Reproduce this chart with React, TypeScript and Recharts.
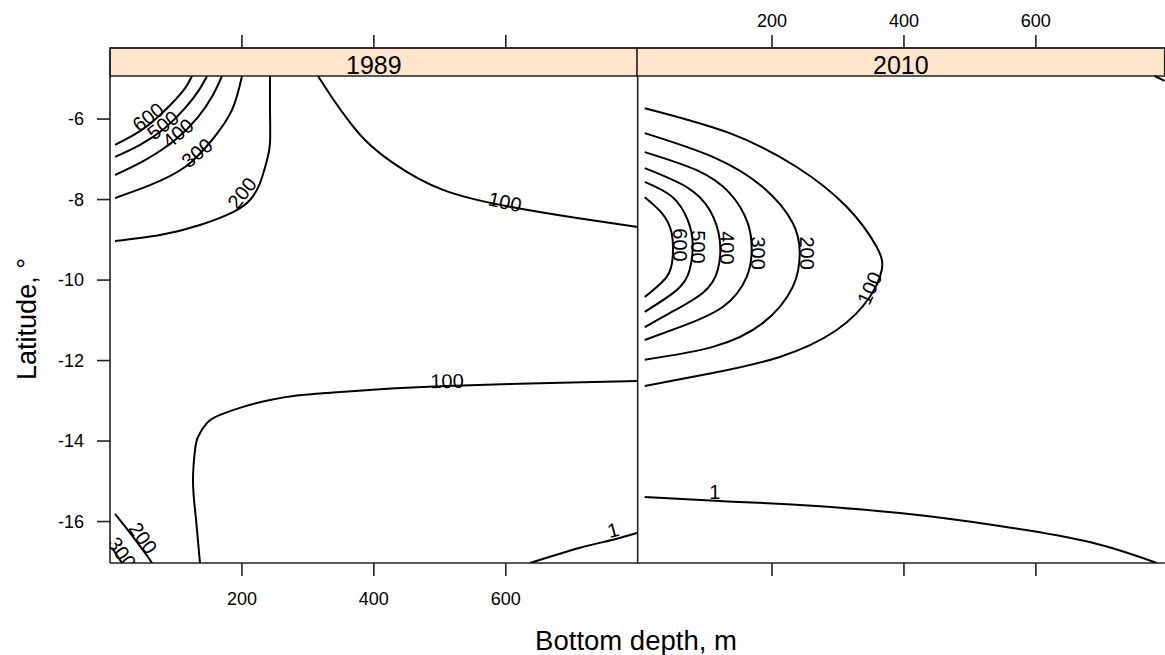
import React from 'react';
import {
  ScatterChart,
  Scatter,
  XAxis,
  YAxis,
  ReferenceArea,
  ReferenceLine,
} from 'recharts';

const FONT = '"Liberation Sans", Arial, Helvetica, sans-serif';

const panelNames = ['1989', '2010'];
const depthTicks = [200, 400, 600];
const latTicks = [-16, -14, -12, -10, -8, -6];

// contour lines, [bottom depth m, latitude]
const c89_600 = [[7.6, -6.64], [45.5, -6.3], [75.8, -5.9], [100.1, -5.5], [115.2, -5.2], [124.3, -4.93]];
const c89_500 = [[7.6, -6.94], [45.5, -6.64], [83.4, -6.22], [113.7, -5.73], [134.9, -5.28], [147.1, -4.93]];
const c89_400 = [[7.6, -7.39], [53.1, -7.02], [98.5, -6.52], [133.4, -5.95], [156.1, -5.4], [169.8, -4.93]];
const c89_300 = [[7.6, -7.96], [60.6, -7.64], [113.7, -7.19], [154.6, -6.52], [185, -5.77], [200.1, -4.93]];
const c89_200 = [
  [7.6, -9.03], [75.8, -8.88], [136.4, -8.63], [186.5, -8.31], [212.2, -8.01], [227.4, -7.59],
  [238, -7.02], [242.6, -6.59], [242.6, -5.8], [242.6, -4.93],
];
const c89_100a = [
  [315.3, -4.93], [338.1, -5.5], [360.8, -6.02], [386.6, -6.52], [429, -7.09], [504.8, -7.76],
  [606.4, -8.18], [708, -8.46], [800, -8.68],
];
const c89_100b = [
  [800, -12.51], [667, -12.56], [510.9, -12.63], [409.3, -12.71], [333.5, -12.8], [283.5, -12.87],
  [242.6, -12.98], [201.6, -13.15], [166.8, -13.35], [147.1, -13.55], [133.4, -13.9], [128.9, -14.22],
  [125.8, -14.97], [128.9, -15.71], [131.9, -16.21], [136.4, -17.03],
];
const c89_200b = [[7.6, -15.81], [30.3, -16.28], [53.1, -16.78], [63.7, -17.03]];
const c89_300b = [[3, -16.65], [18.2, -17.03]];
const c89_1 = [[636.7, -17.03], [712.5, -16.65], [761, -16.46], [800, -16.28]];

const c10_100 = [
  [7, -5.73], [135.8, -6.35], [237.4, -7.19], [313.2, -8.18], [358.7, -9.18], [366.3, -9.75],
  [348.1, -10.42], [298, -11.24], [211.6, -11.91], [110.1, -12.31], [7, -12.63],
];
const c10_200 = [
  [7, -6.35], [110.1, -6.94], [185.9, -7.69], [231.4, -8.58], [242, -9.33], [231.4, -10.17],
  [185.9, -11.07], [110.1, -11.66], [7, -11.98],
];
const c10_300 = [
  [7, -6.82], [85.8, -7.27], [135.8, -7.84], [163.1, -8.58], [169.2, -9.25], [161.6, -9.92],
  [125.2, -10.67], [60, -11.17], [7, -11.49],
];
const c10_400 = [
  [7, -7.22], [70.6, -7.69], [105.5, -8.26], [120.7, -9.0], [117.7, -9.75], [94.9, -10.32],
  [44.9, -10.82], [7, -11.17],
];
const c10_500 = [[7, -7.56], [49.4, -7.94], [72.2, -8.51], [79.7, -9.08], [75.1, -9.75], [55.5, -10.25], [7, -10.79]];
const c10_600 = [[7, -7.94], [32.7, -8.33], [47.9, -8.83], [49.4, -9.43], [40.3, -9.92], [7, -10.42]];
const c10_1 = [
  [7, -15.39], [120.7, -15.49], [242, -15.59], [393.6, -15.79], [545.2, -16.11], [681.6, -16.51], [783.2, -17.03],
];
const c10_corner = [[780.1, -4.93], [795.3, -5.05]];

// contour labels
const labelLevels89 = ['600', '500', '400', '300', '200', '100', '100', '1', '200', '300'];
const labelDepth89 = [57.6, 80.3, 103.1, 131.9, 200.1, 598.8, 510.9, 762.6, 50, 18.2];
const labelLat89 = [-5.95, -6.15, -6.35, -6.84, -7.84, -8.06, -12.51, -16.21, -16.41, -16.78];
const labelLevels10 = ['600', '500', '400', '300', '200', '100', '1'];
const labelDepth10 = [60, 87.3, 131.3, 178.3, 252.6, 348.1, 113.1];
const labelLat10 = [-9.13, -9.18, -9.2, -9.33, -9.33, -10.2, -15.26];

const ANGLES_89 = [-38, -38, -40, -40, -52, 12, -1, -15, 55, 55];
const ANGLES_10 = [90, 90, 90, 90, 90, -66, 0];

const LAT_DOMAIN: [number, number] = [-17.03, -4.234];
const STRIP_BOTTOM = -4.93;

const pts = (a: number[][]) => a.map(([depth, lat]) => ({ depth, lat }));

const lines89 = [c89_600, c89_500, c89_400, c89_300, c89_200, c89_100a, c89_100b, c89_200b, c89_300b, c89_1].map(pts);
const lines10 = [c10_100, c10_200, c10_300, c10_400, c10_500, c10_600, c10_1, c10_corner].map(pts);

const labels89 = labelLevels89.map((level, i) => ({ level, depth: labelDepth89[i], lat: labelLat89[i], angle: ANGLES_89[i] }));
const labels10 = labelLevels10.map((level, i) => ({ level, depth: labelDepth10[i], lat: labelLat10[i], angle: ANGLES_10[i] }));

const INK = '#222';
const axisStyle = { stroke: INK, strokeWidth: 1.6 };
const tickStyle = { fontSize: 18, fill: '#000', fontFamily: FONT };

const NoDot = () => <g />;

const ContourLabel = (props: any) => {
  const { cx, cy, payload } = props;
  return (
    <text
      x={cx}
      y={cy}
      transform={`rotate(${payload.angle} ${cx} ${cy})`}
      textAnchor="middle"
      dominantBaseline="central"
      fontSize={20}
      fontFamily={FONT}
      fill="#000"
    >
      {payload.level}
    </text>
  );
};

const Panel = ({ idx, lines, labels, domain }: any) => {
  const first = idx === 0;
  return (
    <ScatterChart
      width={first ? 650 : 600}
      height={655}
      margin={{ top: 8, right: first ? 12.3 : 22.3, bottom: 52, left: 50 }}
    >
      <XAxis
        dataKey="depth"
        type="number"
        domain={domain}
        allowDataOverflow
        ticks={depthTicks}
        interval={0}
        height={40}
        tickSize={13}
        tickMargin={16}
        axisLine={axisStyle}
        tickLine={axisStyle}
        tick={tickStyle}
        tickFormatter={(v: number) => (first ? String(v) : '')}
      />
      <XAxis
        xAxisId="top"
        orientation="top"
        dataKey="depth"
        type="number"
        domain={domain}
        allowDataOverflow
        ticks={depthTicks}
        interval={0}
        height={40}
        tickSize={13}
        tickMargin={8}
        axisLine={axisStyle}
        tickLine={axisStyle}
        tick={tickStyle}
        tickFormatter={(v: number) => (first ? '' : String(v))}
      />
      <YAxis
        dataKey="lat"
        type="number"
        domain={LAT_DOMAIN}
        allowDataOverflow
        ticks={latTicks}
        interval={0}
        width={60}
        tickSize={13}
        tickMargin={13}
        axisLine={axisStyle}
        tickLine={axisStyle}
        tick={tickStyle}
        hide={!first}
      />
      <ReferenceArea
        y1={STRIP_BOTTOM}
        y2={LAT_DOMAIN[1]}
        fill="#FFE5CC"
        fillOpacity={1}
        stroke={INK}
        strokeWidth={1.6}
        label={{ value: panelNames[idx], position: 'center', fontSize: 25, fill: '#000', fontFamily: FONT, dy: 3 }}
      />
      {first && <ReferenceLine x={domain[1]} stroke={INK} strokeWidth={1.6} />}
      {lines.map((d: any, i: number) => (
        <Scatter
          key={i}
          data={d}
          line={{ stroke: '#000', strokeWidth: 2 }}
          lineJointType="natural"
          shape={NoDot}
          isAnimationActive={false}
        />
      ))}
      <Scatter data={labels} shape={ContourLabel} isAnimationActive={false} />
    </ScatterChart>
  );
};

export default function App() {
  return (
    <div
      style={{
        position: 'absolute',
        left: 0,
        top: 0,
        width: 1165,
        height: 655,
        overflow: 'hidden',
        background: '#fff',
        fontFamily: FONT,
      }}
    >
      <div style={{ position: 'absolute', left: 0, top: 0 }}>
        <Panel idx={0} lines={lines89} labels={labels89} domain={[0, 800]} />
      </div>
      <div style={{ position: 'absolute', left: 587.3, top: 0 }}>
        <Panel idx={1} lines={lines10} labels={labels10} domain={[-4.7, 795.3]} />
      </div>
      <svg
        width={1165}
        height={655}
        style={{ position: 'absolute', left: 0, top: 0, pointerEvents: 'none' }}
      >
        <text x={636} y={650} textAnchor="middle" fontSize={27.5} fontFamily={FONT} fill="#000">
          Bottom depth, m
        </text>
        <text
          x={36}
          y={319}
          transform="rotate(-90 36 319)"
          textAnchor="middle"
          fontSize={27}
          fontFamily={FONT}
          fill="#000"
        >
          Latitude, °
        </text>
      </svg>
    </div>
  );
}
